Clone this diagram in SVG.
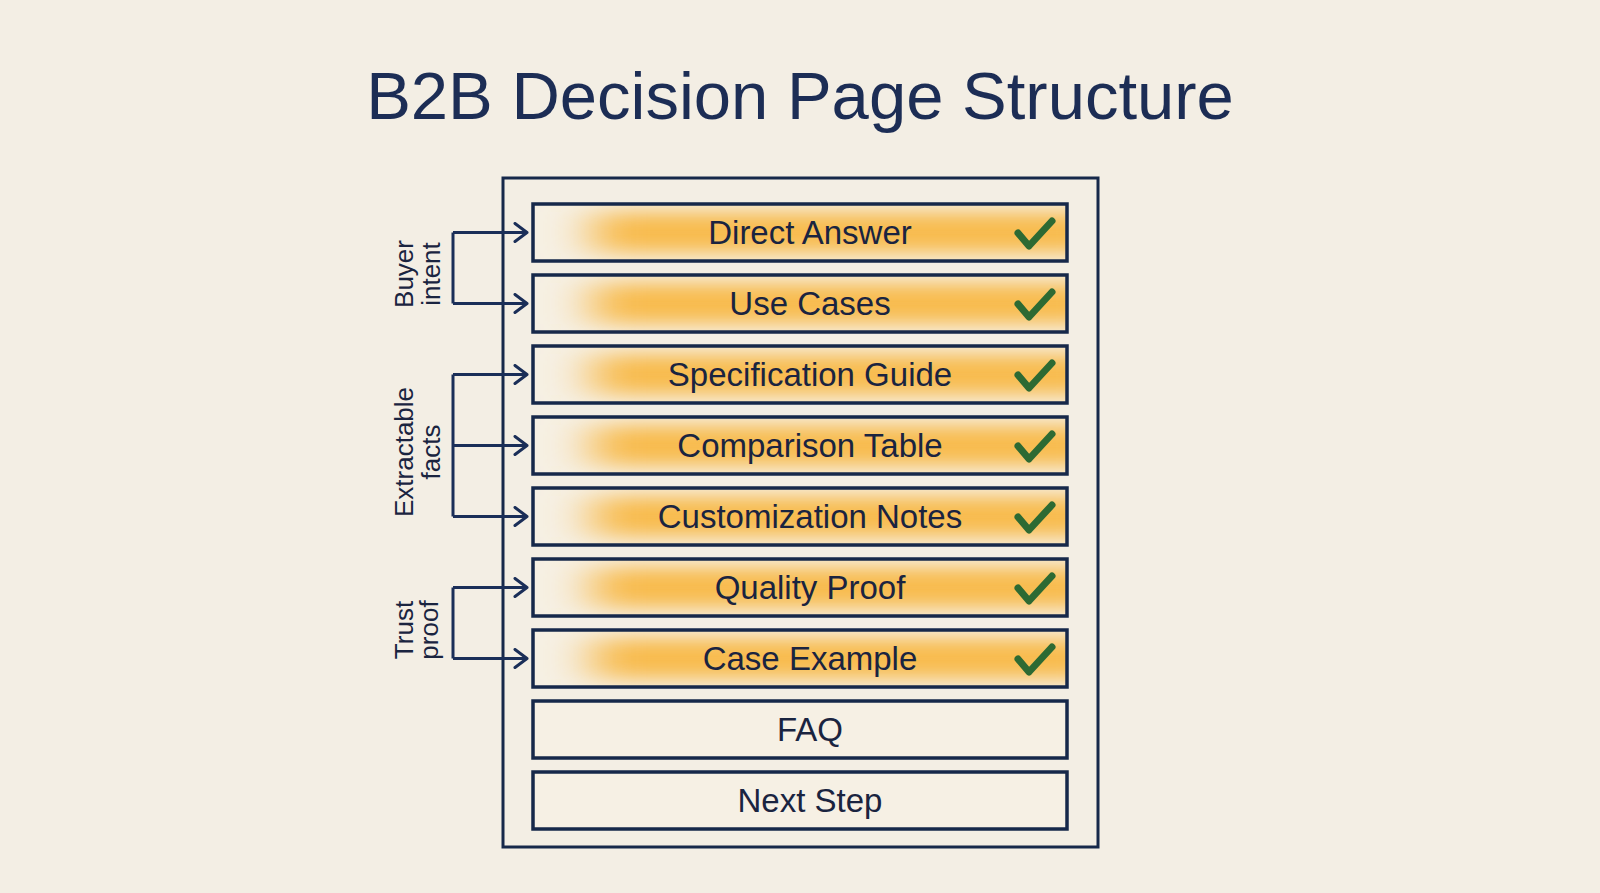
<svg xmlns="http://www.w3.org/2000/svg" width="1600" height="893" viewBox="0 0 1600 893">
<style>
.bg{fill:#f3eee4}
.title{font-family:"Liberation Sans",Arial,sans-serif;font-size:67px;fill:#1c2d55;text-anchor:middle}
.box{fill:none;stroke:#16284a;stroke-width:3.5}
.base{fill:#f6f0e4}
.glow{fill:#f8bb4e;filter:url(#blur)}
.lbl{font-family:"Liberation Sans",Arial,sans-serif;font-size:33px;fill:#1a2440;text-anchor:middle}
.side{font-family:"Liberation Sans",Arial,sans-serif;font-size:26px;fill:#1a2440;text-anchor:middle}
.check{fill:none;stroke:#2d6a33;stroke-width:7;stroke-linecap:round;stroke-linejoin:round}
.conn{fill:none;stroke:#1a2e58;stroke-width:3}
.outer{fill:none;stroke:#16284a;stroke-width:3}
</style>
<defs>
<filter id="blur" x="-30%" y="-100%" width="160%" height="300%"><feGaussianBlur stdDeviation="24 10"/></filter>
<clipPath id="rowclip"><rect x="0" y="0" width="534" height="57"/></clipPath>
<marker id="chev" markerWidth="16" markerHeight="22" refX="14" refY="11" orient="auto" markerUnits="userSpaceOnUse"><path d="M2 2 L14 11 L2 20" fill="none" stroke="#1a2e58" stroke-width="3" stroke-linecap="round" stroke-linejoin="round"/></marker>
</defs>
<rect class="bg" x="0" y="0" width="1600" height="893"/>
<text class="title" x="800" y="119">B2B Decision Page Structure</text>
<g id="page-frame"><rect class="outer" x="503" y="178" width="595" height="669"/></g>

<g id="row-direct-answer" transform="translate(533,204)">
<rect class="base" width="534" height="57"/><g clip-path="url(#rowclip)"><rect class="glow" x="60" y="8" width="520" height="41"/></g>
<rect class="box" width="534" height="57"/><text class="lbl" x="277" y="40">Direct Answer</text><path class="check" d="M485 29 L496 42 L519 17"/></g>
<g id="row-use-cases" transform="translate(533,275)">
<rect class="base" width="534" height="57"/><g clip-path="url(#rowclip)"><rect class="glow" x="60" y="8" width="520" height="41"/></g>
<rect class="box" width="534" height="57"/><text class="lbl" x="277" y="40">Use Cases</text><path class="check" d="M485 29 L496 42 L519 17"/></g>
<g id="row-specification-guide" transform="translate(533,346)">
<rect class="base" width="534" height="57"/><g clip-path="url(#rowclip)"><rect class="glow" x="60" y="8" width="520" height="41"/></g>
<rect class="box" width="534" height="57"/><text class="lbl" x="277" y="40">Specification Guide</text><path class="check" d="M485 29 L496 42 L519 17"/></g>
<g id="row-comparison-table" transform="translate(533,417)">
<rect class="base" width="534" height="57"/><g clip-path="url(#rowclip)"><rect class="glow" x="60" y="8" width="520" height="41"/></g>
<rect class="box" width="534" height="57"/><text class="lbl" x="277" y="40">Comparison Table</text><path class="check" d="M485 29 L496 42 L519 17"/></g>
<g id="row-customization-notes" transform="translate(533,488)">
<rect class="base" width="534" height="57"/><g clip-path="url(#rowclip)"><rect class="glow" x="60" y="8" width="520" height="41"/></g>
<rect class="box" width="534" height="57"/><text class="lbl" x="277" y="40">Customization Notes</text><path class="check" d="M485 29 L496 42 L519 17"/></g>
<g id="row-quality-proof" transform="translate(533,559)">
<rect class="base" width="534" height="57"/><g clip-path="url(#rowclip)"><rect class="glow" x="60" y="8" width="520" height="41"/></g>
<rect class="box" width="534" height="57"/><text class="lbl" x="277" y="40">Quality Proof</text><path class="check" d="M485 29 L496 42 L519 17"/></g>
<g id="row-case-example" transform="translate(533,630)">
<rect class="base" width="534" height="57"/><g clip-path="url(#rowclip)"><rect class="glow" x="60" y="8" width="520" height="41"/></g>
<rect class="box" width="534" height="57"/><text class="lbl" x="277" y="40">Case Example</text><path class="check" d="M485 29 L496 42 L519 17"/></g>
<g id="row-faq" transform="translate(533,701)">
<rect class="base" width="534" height="57"/><rect class="box" width="534" height="57"/><text class="lbl" x="277" y="40">FAQ</text></g>
<g id="row-next-step" transform="translate(533,772)">
<rect class="base" width="534" height="57"/><rect class="box" width="534" height="57"/><text class="lbl" x="277" y="40">Next Step</text></g>

<g id="label-buyer-intent">
<text class="side" transform="translate(413,274) rotate(-90)">Buyer</text>
<text class="side" transform="translate(440,274) rotate(-90)">intent</text></g>
<g id="label-extractable-facts">
<text class="side" transform="translate(413,452) rotate(-90)">Extractable</text>
<text class="side" transform="translate(440,452) rotate(-90)">facts</text></g>
<g id="label-trust-proof">
<text class="side" transform="translate(413,630) rotate(-90)">Trust</text>
<text class="side" transform="translate(438,630) rotate(-90)">proof</text></g>

<g id="connectors">
<path class="conn" d="M453 232.5 V303.5"/>
<path class="conn" d="M453 232.5 H527" marker-end="url(#chev)"/>
<path class="conn" d="M453 303.5 H527" marker-end="url(#chev)"/>
<path class="conn" d="M453 374.5 V516.5"/>
<path class="conn" d="M453 374.5 H527" marker-end="url(#chev)"/>
<path class="conn" d="M453 445.5 H527" marker-end="url(#chev)"/>
<path class="conn" d="M453 516.5 H527" marker-end="url(#chev)"/>
<path class="conn" d="M453 587.5 V658.5"/>
<path class="conn" d="M453 587.5 H527" marker-end="url(#chev)"/>
<path class="conn" d="M453 658.5 H527" marker-end="url(#chev)"/>
</g>
</svg>
